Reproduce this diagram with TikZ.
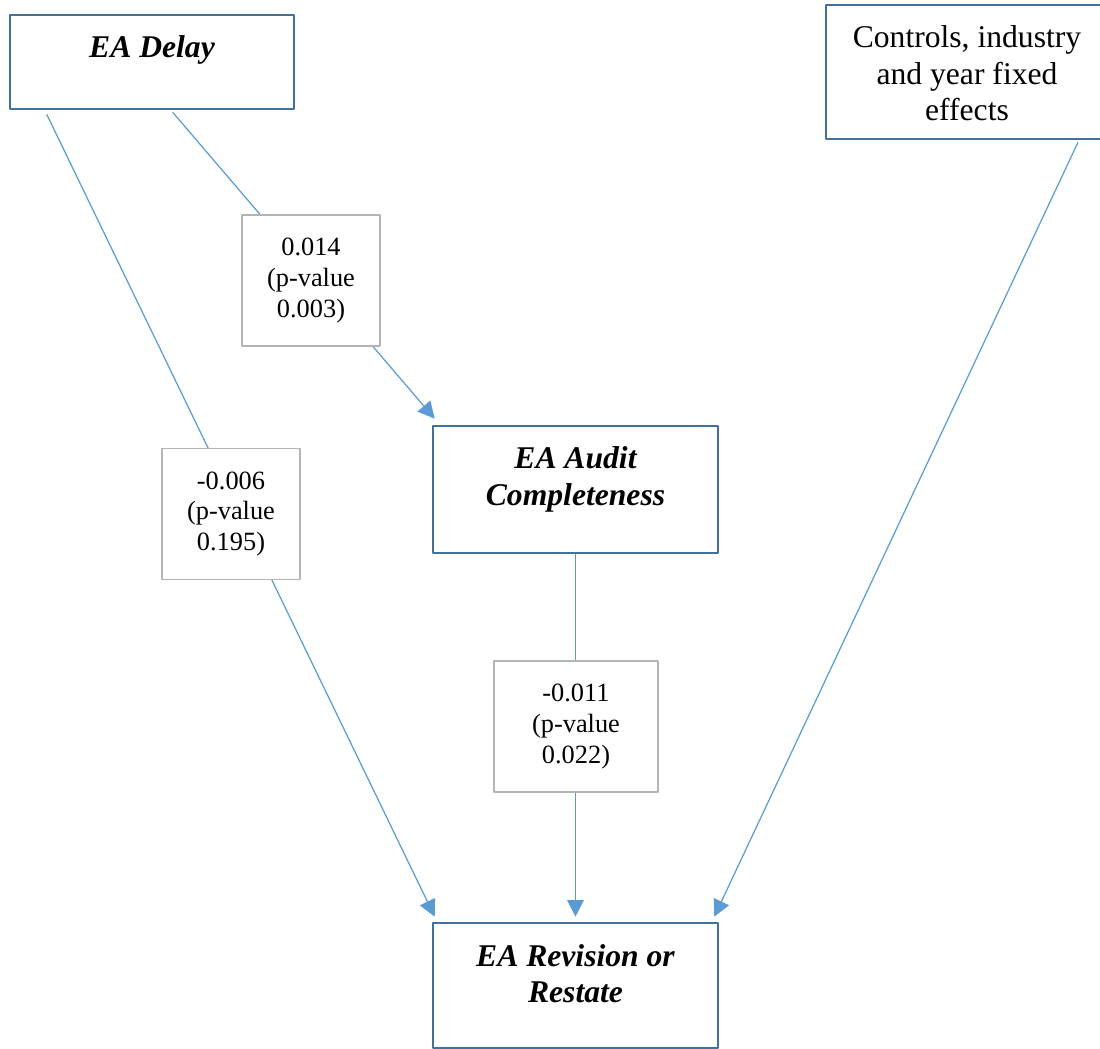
\documentclass[tikz,border=0pt]{standalone}
\usepackage{fontspec}
\setmainfont{Liberation Serif}
\usetikzlibrary{arrows.meta}
\definecolor{boxblue}{HTML}{41719C}
\definecolor{lineblue}{HTML}{5B9BD5}
\definecolor{labgray}{HTML}{B4B4B4}
\begin{document}
\begin{tikzpicture}[x=0.02cm,y=-0.02cm,line join=round,
	varbox/.style={draw=boxblue,line width=1.5pt,fill=white,inner sep=0pt},
	headtxt/.style={anchor=north,inner sep=0pt,align=center,font=\fontsize{18}{20.7}\selectfont\bfseries\itshape},
	ctrltxt/.style={anchor=north,inner sep=0pt,align=center,font=\fontsize{18}{20.7}\selectfont},
	coefbox/.style={draw=labgray,line width=1pt,fill=white,align=center,inner sep=0pt,minimum height=2.62cm,font=\fontsize{15}{17.6}\selectfont},
	arr/.style={draw=lineblue,line width=0.7pt},
	>={Triangle[length=9.5pt,width=9.5pt]}]
	\useasboundingbox (0,0) rectangle (1100,1049);
	\clip (0,0) rectangle (1100,1049);
	% variables
	\node[varbox,minimum width=5.68cm,minimum height=1.88cm] (delay) at (152,62) {};
	\node[varbox,minimum width=5.64cm,minimum height=2.68cm] (controls) at (967,72) {};
	\node[varbox,minimum width=5.7cm,minimum height=2.54cm] (audit) at (575.5,489.5) {};
	\node[varbox,minimum width=5.7cm,minimum height=2.5cm] (revise) at (575.5,985.5) {};
	\node[headtxt] (delaytxt) at ([shift={(0,22)}]delay.north) {EA Delay};
	\node[ctrltxt] (controlstxt) at ([shift={(0,22)}]controls.north) {Controls, industry\\and year fixed\\effects};
	\node[headtxt] (audittxt) at ([shift={(0,22)}]audit.north) {EA Audit\\Completeness};
	\node[headtxt] (revisetxt) at ([shift={(0,22)}]revise.north) {EA Revision or\\Restate};
	% paths
	\draw[arr,->] ([shift={(164,2)}]delay.south west)--([shift={(3,-6)}]audit.north west);
	\draw[arr,->] ([shift={(38,4)}]delay.south west)--([shift={(3,-5)}]revise.north west);
	\draw[arr,->] (audit.south)--([shift={(0,-5)}]revise.north);
	\draw[arr,->] ([shift={(111,2)}]controls.south)--([shift={(-5,-5)}]revise.north east);
	% coefficients
	\node[coefbox,minimum width=2.76cm] (coefa) at (311,280.5) {0.014\\(p-value\\0.003)};
	\node[coefbox,minimum width=2.76cm] (coefb) at (231,514) {-0.006\\(p-value\\0.195)};
	\node[coefbox,minimum width=3.28cm] (coefc) at (576,726.5) {-0.011\\(p-value\\0.022)};
\end{tikzpicture}
\end{document}
